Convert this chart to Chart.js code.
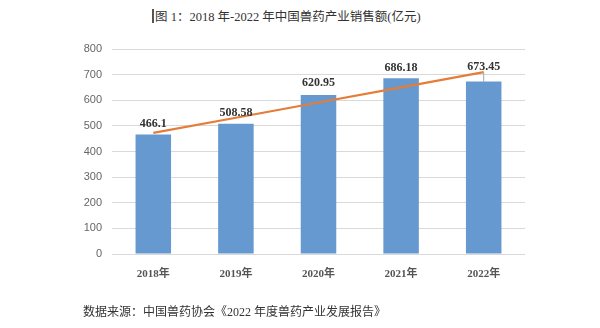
<!DOCTYPE html>
<html>
<head>
<meta charset="utf-8">
<script src="https://cdn.jsdelivr.net/npm/chart.js@4/dist/chart.umd.min.js"></script>
<style>
  html, body { margin: 0; padding: 0; background: #fff; }
  #wrap { position: relative; width: 600px; height: 328px; overflow: hidden; }
  #chart { position: absolute; left: 0; top: 0; }
  .title {
    position: absolute; left: 152px; top: 6px; white-space: nowrap;
    font-family: "Liberation Serif", "Noto Sans CJK SC", serif; font-size: 12.5px; color: #333;
  }
  .title .bar { display: inline-block; width: 2px; height: 14px; background: #555; vertical-align: -2px; margin-right: 1px; }
  .source {
    position: absolute; left: 83px; top: 302px; white-space: nowrap;
    font-family: "Liberation Serif", "Noto Sans CJK SC", serif; font-size: 12px; color: #333;
  }
</style>
</head>
<body>
<div id="wrap">
  <div class="title"><span class="bar"></span>图 1：2018 年-2022 年中国兽药产业销售额(亿元)</div>
  <canvas id="chart" width="600" height="328"></canvas>
  <div class="source">数据来源：中国兽药协会《2022 年度兽药产业发展报告》</div>
</div>
<script>
// data
const years = ['2018年', '2019年', '2020年', '2021年', '2022年'];
const sales = [466.1, 508.58, 620.95, 686.18, 673.45];
const trend = [472.6, 531.8, 591.1, 650.3, 709.5]; // orange trend line
const yTicks = [0, 100, 200, 300, 400, 500, 600, 700, 800];

// value labels above bars (last one lifted above the trend line end)
const valueLabels = {
    id: 'valueLabels',
    afterDatasetsDraw(chart, args, opts) {
        const ctx = chart.ctx;
        const meta = chart.getDatasetMeta(1);
        ctx.save();
        ctx.font = 'bold 12px "Liberation Serif", serif';
        ctx.fillStyle = '#333';
        ctx.textAlign = 'center';
        ctx.textBaseline = 'middle';
        meta.data.forEach((bar, i) => {
            const lift = opts.lift[i] || 11;
            const y = bar.y - lift;
            ctx.fillText(String(sales[i]), bar.x, y);
            if (lift > 12) {
                // leader line
                ctx.strokeStyle = '#a6a6a6';
                ctx.lineWidth = 1;
                ctx.beginPath();
                ctx.moveTo(bar.x, y + 6);
                ctx.lineTo(bar.x, bar.y);
                ctx.stroke();
            }
        });
        ctx.restore();
    }
};

new Chart(document.getElementById('chart'), {
    data: {
        labels: years,
        datasets: [
            {
                type: 'line',
                data: trend,
                borderColor: '#e57c37',
                borderWidth: 2.2,
                pointRadius: 0,
                tension: 0,
                order: 0
            },
            {
                type: 'bar',
                data: sales,
                backgroundColor: '#6699d0',
                categoryPercentage: 1,
                barPercentage: 0.43,
                order: 1
            }
        ]
    },
    options: {
        responsive: false,
        animation: false,
        layout: { padding: { left: 60, right: 75, top: 49, bottom: 50 } },
        scales: {
            x: {
                grid: { display: false },
                border: { display: false },
                ticks: {
                    padding: 6,
                    color: '#555',
                    font: { family: '"Liberation Serif", "Noto Sans CJK SC", serif', size: 11, weight: 'bold' }
                },
                afterFit(scale) { scale.height = 24; }
            },
            y: {
                min: 0,
                max: 800,
                afterBuildTicks(scale) { scale.ticks = yTicks.map(v => ({ value: v })); },
                grid: { color: '#d9d9d9', drawTicks: false },
                border: { display: false },
                ticks: {
                    padding: 10,
                    color: '#666',
                    font: { family: '"Liberation Sans", sans-serif', size: 11 }
                },
                afterFit(scale) { scale.width = 52; }
            }
        },
        plugins: {
            legend: { display: false },
            tooltip: { enabled: false },
            valueLabels: { lift: [11, 11, 12, 10, 15] }
        }
    },
    plugins: [valueLabels]
});
</script>
</body>
</html>
